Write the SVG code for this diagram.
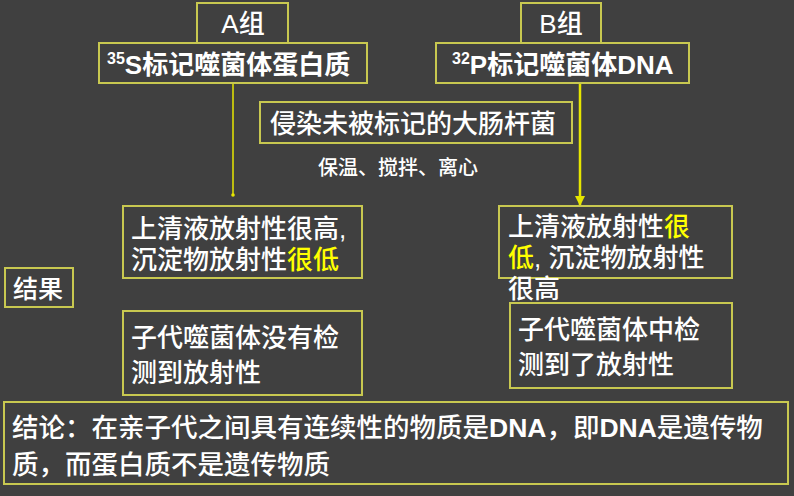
<svg xmlns="http://www.w3.org/2000/svg" width="794" height="496" viewBox="0 0 794 496">
<defs>
<style>
.bx{fill:#404040;stroke:#c8c850;stroke-width:2}
.t{font-family:"Liberation Sans","Noto Sans CJK SC",sans-serif;fill:#ffffff;font-weight:500}
.b{font-weight:bold}
.y{fill:#ffff00}
.ln{stroke:#e6e600;fill:none}
</style>
<marker id="ah" viewBox="0 0 10 10" refX="9" refY="5" markerWidth="4" markerHeight="4" orient="auto"><path d="M0,0 L10,5 L0,10 z" fill="#e6e600"/></marker>
<marker id="dot" viewBox="0 0 10 10" refX="5" refY="5" markerWidth="3" markerHeight="3"><circle cx="5" cy="5" r="4" fill="#e6e600"/></marker>
</defs>
<rect width="794" height="496" fill="#404040"/>
<g id="connectors">
<line class="ln" x1="233" y1="83" x2="233" y2="195" stroke-width="1.5" marker-end="url(#dot)"/>
<line class="ln" x1="580" y1="83" x2="580" y2="205" stroke-width="2.5" marker-end="url(#ah)"/>
</g>
<g id="groupA">
<rect class="bx" x="197" y="3" width="91" height="40"/>
<text class="t" x="243" y="33" font-size="26" text-anchor="middle">A组</text>
</g>
<g id="labelS">
<rect class="bx" x="99" y="43" width="268" height="40"/>
<text class="t b" x="107" y="74" font-size="26"><tspan font-size="16" dy="-10">35</tspan><tspan dy="10">S标记噬菌体蛋白质</tspan></text>
</g>
<g id="groupB">
<rect class="bx" x="521" y="3" width="80" height="40"/>
<text class="t" x="561" y="33" font-size="26" text-anchor="middle">B组</text>
</g>
<g id="labelP">
<rect class="bx" x="436" y="43" width="253" height="40"/>
<text class="t b" x="452" y="74" font-size="26"><tspan font-size="16" dy="-10">32</tspan><tspan dy="10">P标记噬菌体DNA</tspan></text>
</g>
<g id="infect">
<rect class="bx" x="260" y="102" width="312" height="41"/>
<text class="t" x="270" y="133" font-size="26">侵染未被标记的大肠杆菌</text>
</g>
<g id="steps">
<text class="t" x="318" y="175" font-size="20">保温、搅拌、离心</text>
</g>
<g id="resultA1">
<rect class="bx" x="123" y="206" width="239" height="72"/>
<text class="t" x="131" y="238" font-size="26">上清液放射性很高,</text>
<text class="t" x="131" y="269" font-size="26">沉淀物放射性<tspan class="y">很低</tspan></text>
</g>
<g id="resultB1">
<rect class="bx" x="499" y="206" width="233" height="72"/>
<text class="t" x="508" y="236" font-size="26">上清液放射性<tspan class="y">很</tspan></text>
<text class="t" x="508" y="267" font-size="26"><tspan class="y">低</tspan>, 沉淀物放射性</text>
<text class="t" x="508" y="298" font-size="26">很高</text>
</g>
<g id="result">
<rect class="bx" x="5" y="268" width="68" height="39"/>
<text class="t" x="13" y="298" font-size="25">结果</text>
</g>
<g id="resultA2">
<rect class="bx" x="123" y="311" width="239" height="84"/>
<text class="t" x="131" y="347" font-size="26">子代噬菌体没有检</text>
<text class="t" x="131" y="382" font-size="26">测到放射性</text>
</g>
<g id="resultB2">
<rect class="bx" x="510" y="303" width="222" height="85"/>
<text class="t" x="518" y="339" font-size="26">子代噬菌体中检</text>
<text class="t" x="518" y="374" font-size="26">测到了放射性</text>
</g>
<g id="conclusion">
<rect class="bx" x="4" y="402" width="784" height="82"/>
<text class="t" x="12" y="437" font-size="26.5">结论：在亲子代之间具有连续性的物质是<tspan class="b">DNA</tspan>，即<tspan class="b">DNA</tspan>是遗传物</text>
<text class="t" x="12" y="474" font-size="26.5">质，而蛋白质不是遗传物质</text>
</g>
</svg>
